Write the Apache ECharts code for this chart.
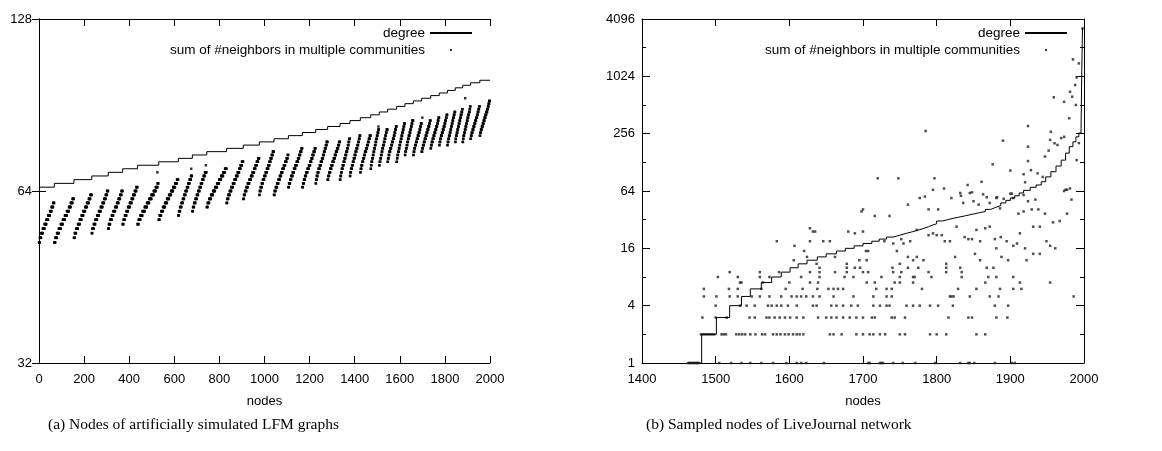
<!DOCTYPE html>
<html><head><meta charset="utf-8">
<script src="https://cdn.jsdelivr.net/npm/echarts@6/dist/echarts.min.js"></script>
<style>html,body{margin:0;padding:0;background:#fff}#c{width:1162px;height:451px}</style>
</head><body><div id="c"></div>
<script>
// ---------- (a) LFM graphs ----------
const lfmXTicks = [0,200,400,600,800,1000,1200,1400,1600,1800,2000];
const lfmYTicks = [32,64,128];
// node index where each degree value begins (sorted nodes)
const lfmDegreeStart = [0,68,155,234,307,371,437,531,618,680,744,832,906,977,1042,1106,1168,1227,1280,1335,1379,1425,1471,1509,1546,1586,1623,1660,1697,1737,1775,1811,1846,1879,1914,1955];
const lfmDegreeValue = [65,66,67,68,69,70,71,72,73,74,75,76,77,78,79,80,81,82,83,84,85,86,87,88,89,90,91,92,93,94,95,96,97,98,99,100];
// lowest value of the "sum of #neighbors" stripe in each degree group
const lfmStripeLow = [52,52,53,54,55,56,56,57,58,59,60,61,62,63,63,65,65,66,67,67,68,69,70,71,72,72,74,74,75,76,77,77,78,78,79,80];
// number of nodes at each successive integer value of the stripe
const lfmStripeCounts = [
 [4,6,7,8,8,8,8,7,7,5],
 [5,7,8,9,9,9,9,9,8,8,6],
 [4,6,8,8,8,8,8,8,8,7,6],
 [3,6,7,8,8,8,8,7,7,6,5],
 [3,6,7,7,8,8,7,7,6,5],
 [4,6,7,7,8,8,7,7,7,5],
 [5,8,9,10,10,10,10,10,9,8,4],
 [4,7,8,9,9,9,9,9,9,8,6],
 [3,5,6,6,6,6,6,6,6,6,5],
 [3,5,6,6,6,6,6,6,6,6,7],
 [4,7,8,9,9,9,9,9,9,8,7],
 [3,5,6,7,7,7,7,7,7,6,6,6],
 [3,5,6,6,7,7,7,7,6,6,6,5],
 [2,4,5,5,6,6,6,6,5,5,5,5,5],
 [3,5,6,6,6,6,6,6,6,6,5,3],
 [3,5,5,6,6,6,6,6,5,5,5,4],
 [3,4,5,5,6,6,6,5,5,5,5,4],
 [2,3,4,4,5,5,5,5,4,4,4,4,4],
 [3,4,5,5,5,5,5,5,5,5,4,4],
 [2,3,3,4,4,4,4,4,4,3,3,3,3],
 [2,3,4,4,4,4,4,4,4,4,3,3,3],
 [2,3,4,4,4,4,5,4,4,4,4,4],
 [2,2,3,3,3,3,3,3,3,3,3,3,3],
 [2,3,3,3,3,3,4,3,3,3,3,4],
 [2,3,3,4,4,4,4,4,3,3,3,3],
 [2,2,3,3,3,3,3,3,3,3,3,3,3],
 [2,3,3,3,3,3,4,3,3,3,3,4],
 [2,3,3,4,4,4,4,4,3,3,3],
 [3,3,4,4,4,4,4,4,4,3,3],
 [2,3,4,4,4,4,4,4,3,3,3],
 [2,3,3,4,4,4,4,3,3,3,3],
 [2,3,3,3,3,3,3,3,3,3,3,3],
 [2,2,3,3,3,3,3,3,3,3,3,2],
 [2,2,3,3,3,3,3,3,3,3,3,2,2],
 [2,3,4,4,4,4,4,4,3,3,3,3],
 [2,3,4,4,4,4,4,4,4,3,3,3,3]
];
const lfmOutliers = [[525,69],[675,70],[740,71],[1505,83],[1890,93],[1700,86]];

// ---------- (b) LiveJournal ----------
const ljXTicks = [1400,1500,1600,1700,1800,1900,2000];
const ljYTicks = [1,4,16,64,256,1024,4096];
const ljMinorTickExponents = [0,12]; // minor ticks every factor of 2 (2^0 .. 2^12)
const ljDegree = [[1462,1],[1481,2],[1501,3],[1519,4],[1535,5],[1547,6],[1562,7],[1576,8],[1589,9],[1601,10],[1612,11],[1624,12],[1638,13],[1650,14],[1664,15],[1676,16],[1688,17],[1700,18],[1712,19],[1722,20],[1732,21],[1741,22],[1750,23],[1759,24],[1768,25],[1776,26],[1783,27],[1789,28],[1794,29],[1800,31],[1808,32],[1815,33],[1822,34],[1830,35],[1838,36],[1845,37],[1852,38],[1859,39],[1866,41],[1873,43],[1880,45],[1887,48],[1894,51],[1900,54],[1906,57],[1912,61],[1918,65],[1927,70],[1935,74],[1942,80],[1948,90],[1955,102],[1962,117],[1969,135],[1975,160],[1980,187],[1985,210],[1989,237],[1993,260],[1996,290],[1997,1200],[1998,3300]];
const ljRow1 = [1463,1465,1467,1469,1471,1473,1475,1477,1505,1521,1535,1547,1562,1578,1596,1610,1616,1623,1647,1707,1709,1723,1725,1727,1741,1754,1771,1798,1832,1843,1845,1851,1879,1902,1906];
const ljRow2 = [1480,1483,1486,1489,1492,1495,1498,1508,1511,1514,1528,1532,1536,1540,1547,1554,1563,1567,1578,1583,1588,1594,1599,1605,1610,1614,1619,1655,1660,1671,1691,1700,1709,1714,1723,1730,1750,1757,1791,1800,1813,1854,1866];
const ljRow3 = [1482,1500,1515,1546,1553,1569,1573,1580,1587,1594,1601,1610,1619,1639,1650,1657,1664,1673,1682,1691,1700,1712,1716,1739,1743,1757,1816,1843,1848,1881,1896];
const ljRow4 = [1500,1533,1542,1553,1571,1576,1583,1589,1598,1610,1632,1637,1657,1664,1673,1684,1693,1714,1723,1732,1736,1759,1768,1777,1791,1802,1822,1879,1897];
const ljRow5 = [1484,1501,1519,1530,1549,1560,1573,1589,1603,1610,1616,1623,1632,1641,1660,1687,1714,1732,1739,1818,1820,1823,1845,1872,1884,1986];
const ljRow6 = [1484,1518,1530,1562,1595,1618,1638,1653,1660,1666,1673,1718,1732,1739,1780,1829,1854,1886,1904,1915];
const ljRow7 = [1533,1535,1564,1600,1628,1639,1705,1716,1743,1750,1768,1866,1913,1954];
const ljRow8 = [1503,1530,1560,1573,1616,1641,1675,1687,1725,1750,1768,1770,1793,1834,1870,1881,1904];
const ljRow9 = [1519,1560,1586,1628,1641,1662,1678,1700,1707,1741,1752,1789,1813,1834];
const ljRow10 = [1641,1678,1689,1696,1740,1761,1775,1813,1832,1868,1877];
const ljOther = [
 [1637,11],[1662,13],[1678,11],[1695,12],[1705,12],[1750,11],[1761,13],[1768,12],[1773,13],[1782,12],[1813,11],[1825,13],[1852,14],[1859,12],[1888,13],[1897,12],[1922,12],[1931,14],[1940,14],[1606,12],[1624,13],
 [1583,19],[1607,17],[1620,15],[1628,19],[1628,26],[1632,24],[1635,24],[1646,19],[1655,19],[1680,24],[1689,23],[1700,24],[1704,15],[1707,15],[1729,19],[1741,18],[1746,15],[1752,20],[1755,18],[1764,19],[1773,25],[1789,22],[1795,23],[1800,22],[1807,22],[1811,19],[1818,19],[1827,27],[1838,21],[1843,20],[1848,20],[1854,25],[1859,19],[1866,26],[1872,27],[1879,20],[1881,16],[1887,21],[1895,19],[1904,17],[1909,18],[1913,23],[1920,16],[1931,27],[1940,27],[1949,19],[1954,17],[1961,16],[1967,31],
 [1698,39],[1700,41],[1716,35],[1736,35],[1761,46],[1777,54],[1784,56],[1795,66],[1789,41],[1802,41],[1820,54],[1832,61],[1836,48],[1845,61],[1850,50],[1857,46],[1863,59],[1872,48],[1881,54],[1886,42],[1900,60],[1904,54],[1911,37],[1918,39],[1924,50],[1929,41],[1934,52],[1938,41],[1947,37],[1958,30],[1977,37],[1981,68],[1983,52],
 [1810,68],[1833,57],[1842,74],[1848,62],[1861,80],[1868,55],[1882,55],[1891,53],[1902,60],[1918,58],
 [1720,87],[1748,87],[1797,87],[1785,273],[1890,216],[1876,122],[1900,105],[1924,308],[1924,187],[1924,132],[1918,96],[1920,79],[1928,106],[1937,98],[1944,90],[1947,147],[1952,170],[1955,268],[1954,220],[1960,203],[1964,195],[1969,230],[1973,237],[1980,372],[1973,553],[1959,617],[1981,705],[1984,626],[1989,512],[1990,998],[1985,1543],[1998,3260],[1990,135],[1993,204],[1973,64],[1975,66],[1977,66],[1993,1400],[1988,830]
];

// ---------- build series data ----------
const lfmDegreeData = lfmDegreeStart.map((x,i)=>[x,lfmDegreeValue[i]]);
lfmDegreeData.push([2000, lfmDegreeValue[lfmDegreeValue.length-1]]);
const lfmScatter = [];
lfmStripeCounts.forEach((counts,i)=>{
  let x = lfmDegreeStart[i];
  counts.forEach((n,j)=>{ for(let k=0;k<n;k++){ lfmScatter.push([x, lfmStripeLow[i]+j]); x++; } });
});
lfmOutliers.forEach(p=>lfmScatter.push(p));
const ljScatter = [];
[ljRow1,ljRow2,ljRow3,ljRow4,ljRow5,ljRow6,ljRow7,ljRow8,ljRow9,ljRow10].forEach((row,i)=>row.forEach(x=>ljScatter.push([x,i+1])));
ljOther.forEach(p=>ljScatter.push(p));

const FONT = 'Liberation Sans';
const NAME_DEG = 'degree';
const NAME_SUM = 'sum of #neighbors in multiple communities';
const txt = {color:'#000', fontFamily:FONT, fontSize:13};
const legTxt = {color:'#000', fontFamily:FONT, fontSize:13.5};
const line = {lineStyle:{color:'#000', width:1}};

function xAx(grid, min, max, interval, pos, labels){
  return {type:'value', gridIndex:grid, position:pos, min, max, interval,
    axisLine:{show:true, onZero:false, ...line}, axisTick:{show:true, inside:true, length:7, ...line},
    axisLabel:{show:labels, margin:10, ...txt, formatter:v=>String(v)}, splitLine:{show:false},
    name: labels?'nodes':'', nameLocation:'middle', nameGap:32, nameTextStyle:txt};
}
function yAx(grid, min, max, base, split, pos, labels, tickLen){
  return {type:'log', logBase:base, gridIndex:grid, position:pos, min, max, splitNumber:split,
    axisLine:{show:true, ...line}, axisTick:{show:true, inside:true, length:tickLen, ...line},
    axisLabel:{show:labels, margin:7, ...txt, formatter:v=>String(Math.round(v))}, splitLine:{show:false}};
}
// helper axis drawing only the short ticks at every factor of 2 (in log2 units)
function yMinor(grid, pos){
  return {type:'value', gridIndex:grid, position:pos, min:ljMinorTickExponents[0], max:ljMinorTickExponents[1], interval:1,
    axisLine:{show:false, onZero:false}, axisTick:{show:true, inside:true, length:4, ...line},
    axisLabel:{show:false}, splitLine:{show:false}};
}

const chart = echarts.init(document.getElementById('c'), null, {renderer:'canvas'});
chart.setOption({
  animation:false,
  backgroundColor:'#fff',
  grid:[{left:39, right:672, top:19, bottom:88},{left:642, right:78, top:19, bottom:88}],
  xAxis:[
    xAx(0, lfmXTicks[0], lfmXTicks[lfmXTicks.length-1], 200, 'bottom', true),
    xAx(0, lfmXTicks[0], lfmXTicks[lfmXTicks.length-1], 200, 'top', false),
    xAx(1, ljXTicks[0], ljXTicks[ljXTicks.length-1], 100, 'bottom', true),
    xAx(1, ljXTicks[0], ljXTicks[ljXTicks.length-1], 100, 'top', false)
  ],
  yAxis:[
    yAx(0, lfmYTicks[0], lfmYTicks[2], 2, 2, 'left', true, 7),
    yAx(0, lfmYTicks[0], lfmYTicks[2], 2, 2, 'right', false, 7),
    yAx(1, ljYTicks[0], ljYTicks[6], 4, 6, 'left', true, 8),
    yAx(1, ljYTicks[0], ljYTicks[6], 4, 6, 'right', false, 8),
    yMinor(1, 'left'),
    yMinor(1, 'right')
  ],
  legend:[
    {data:[NAME_DEG,{name:NAME_SUM, icon:'path://M0,0h1v1h-1z'}], orient:'vertical', align:'right', right:689, top:26, padding:0,
     itemWidth:42, itemHeight:2, itemGap:3, selectedMode:false, textStyle:legTxt},
    {data:[NAME_DEG,{name:NAME_SUM, icon:'path://M0,0h1v1h-1z'}], orient:'vertical', align:'right', right:94, top:26, padding:0,
     itemWidth:42, itemHeight:2, itemGap:3, selectedMode:false, textStyle:legTxt}
  ],
  title:[
    {text:'(a) Nodes of artificially simulated LFM graphs', left:48, top:417, padding:0,
     textStyle:{fontFamily:'Liberation Serif', fontSize:15.5, fontWeight:'normal', color:'#000'}},
    {text:'(b) Sampled nodes of LiveJournal network', left:646, top:417, padding:0,
     textStyle:{fontFamily:'Liberation Serif', fontSize:15.5, fontWeight:'normal', color:'#000'}}
  ],
  series:[
    {name:NAME_DEG, type:'line', step:'end', xAxisIndex:0, yAxisIndex:0, data:lfmDegreeData, symbol:'none',
     lineStyle:{color:'#000', width:1}, itemStyle:{color:'#000'}},
    {name:NAME_SUM, type:'scatter', xAxisIndex:0, yAxisIndex:0, data:lfmScatter, symbol:'rect', symbolSize:2.5,
     itemStyle:{color:'#000'}, large:false},
    {name:NAME_DEG, type:'line', step:'end', xAxisIndex:2, yAxisIndex:2, data:ljDegree, symbol:'none',
     lineStyle:{color:'#000', width:1}, itemStyle:{color:'#000'}},
    {name:NAME_SUM, type:'scatter', xAxisIndex:2, yAxisIndex:2, data:ljScatter, symbol:'rect', symbolSize:2.5,
     itemStyle:{color:'#222'}}
  ]
});
</script></body></html>
